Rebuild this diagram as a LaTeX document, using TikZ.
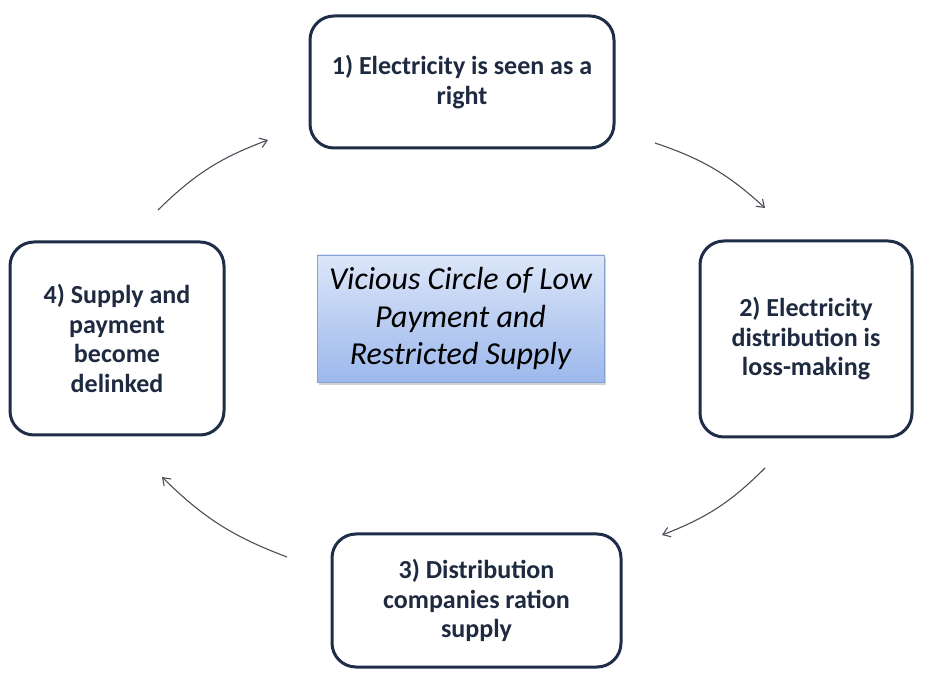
\documentclass[tikz,border=0pt]{standalone}
\usepackage{fontspec}
\setmainfont{Carlito}
\usetikzlibrary{arrows.meta,shadows}
\definecolor{navy}{HTML}{1F2D48}
\definecolor{txt}{HTML}{1E2A40}
\definecolor{cboxtop}{HTML}{DCE6F8}
\definecolor{cboxbot}{HTML}{9CB8EC}
\definecolor{cboxline}{HTML}{86A2D2}
\definecolor{arr}{HTML}{4A4F58}
\tikzset{
  stagebox/.style={draw=navy, line width=3pt, rounded corners=24pt, fill=white,
    align=center, text=txt, font=\fontsize{26}{29.5}\selectfont\bfseries, inner sep=0pt},
  titlebox/.style={draw=cboxline, line width=0.8pt, top color=cboxtop, bottom color=cboxbot,
    align=center, font=\fontsize{32}{37.5}\selectfont\itshape, inner sep=0pt,
    drop shadow={shadow xshift=2pt, shadow yshift=-3pt, opacity=0.35}},
  cyc/.style={draw=arr, line width=1.1pt, -{Straight Barb[length=7pt,width=10pt,line width=1.1pt]}}
}
\begin{document}
\begin{tikzpicture}[x=1pt,y=-1pt]
\useasboundingbox (0,0) rectangle (930,692);
\node[stagebox, minimum width=304pt, minimum height=132pt] (b1) at (462,82) {1) Electricity is seen as a\\right};
\node[stagebox, minimum width=212pt, minimum height=196pt] (b2) at (806,339) {2) Electricity\\distribution is\\loss-making};
\node[stagebox, minimum width=289pt, minimum height=133pt] (b3) at (476.5,600.5) {3) Distribution\\companies ration\\supply};
\node[stagebox, minimum width=214pt, minimum height=193pt] (b4) at (117,338.5) {4) Supply and\\payment\\become\\delinked};
\node[titlebox, minimum width=287pt, minimum height=127pt] (t) at (460.5,318.5) {Vicious Circle of Low\\Payment and\\Restricted Supply};
\coordinate (a1s) at (158,210); \coordinate (a1e) at (268,140);
\coordinate (a2s) at (655,143); \coordinate (a2e) at (765,208);
\coordinate (a3s) at (765,468); \coordinate (a3e) at (662,535);
\coordinate (a4s) at (287,557); \coordinate (a4e) at (162,477);
\draw[cyc] (a1s) to[bend left=12] (a1e);
\draw[cyc] (a2s) to[bend left=12] (a2e);
\draw[cyc] (a3s) to[bend left=12] (a3e);
\draw[cyc] (a4s) to[bend left=12] (a4e);
\end{tikzpicture}
\end{document}
